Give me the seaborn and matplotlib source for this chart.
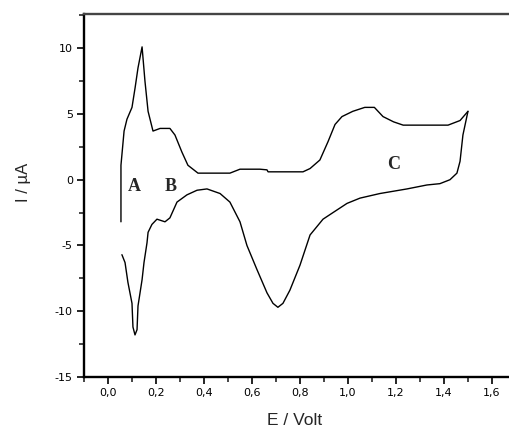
import numpy as np
import pandas as pd
import matplotlib
matplotlib.use("Agg")
import matplotlib.pyplot as plt
import seaborn as sns
from matplotlib.ticker import MultipleLocator, FuncFormatter

# Anodic (upper) branch
anodic_E = [0.054, 0.054, 0.067, 0.079, 0.1, 0.113, 0.125, 0.142, 0.154, 0.167, 0.1875,
            0.217, 0.258, 0.279, 0.308, 0.333, 0.375, 0.508, 0.55, 0.633, 0.6625, 0.667,
            0.8125, 0.842, 0.883, 0.917, 0.946, 0.975, 1.02, 1.07, 1.11, 1.146, 1.19,
            1.23, 1.417, 1.467, 1.5]
anodic_I = [-3.2, 1.1, 3.7, 4.6, 5.5, 7.0, 8.5, 10.1, 7.5, 5.2, 3.7,
            3.9, 3.9, 3.4, 2.1, 1.1, 0.5, 0.5, 0.8, 0.8, 0.75, 0.6,
            0.6, 0.85, 1.5, 2.9, 4.2, 4.8, 5.2, 5.5, 5.5, 4.8, 4.4,
            4.15, 4.15, 4.5, 5.2]

# Cathodic (lower) branch
cathodic_E = [1.5, 1.479, 1.467, 1.454, 1.425, 1.383, 1.329, 1.246, 1.133, 1.05, 0.996,
              0.9375, 0.896, 0.842, 0.8, 0.758, 0.729, 0.708, 0.6875, 0.6625, 0.62,
              0.579, 0.55, 0.508, 0.467, 0.4125, 0.371, 0.329, 0.2875, 0.258, 0.2375,
              0.204, 0.183, 0.167, 0.1625, 0.15, 0.142, 0.125, 0.121, 0.1125, 0.104,
              0.1, 0.083, 0.071, 0.058]
cathodic_I = [5.2, 3.4, 1.4, 0.5, 0.0, -0.3, -0.4, -0.7, -1.05, -1.4, -1.8,
              -2.5, -3.0, -4.2, -6.5, -8.4, -9.4, -9.7, -9.4, -8.6, -6.8,
              -5.0, -3.2, -1.7, -1.05, -0.7, -0.8, -1.15, -1.7, -2.9, -3.2,
              -3.0, -3.4, -4.0, -4.8, -6.3, -7.6, -9.6, -11.4, -11.8, -11.2,
              -9.4, -7.8, -6.3, -5.7]

peak_labels = ["A", "B", "C"]
peak_label_E = [0.108, 0.262, 1.19]
peak_label_I = [-0.55, -0.55, 1.15]

sns.set_style("white")
plt.rcParams['font.family'] = ['Liberation Sans', 'DejaVu Sans']

fig = plt.figure(figsize=(5.09, 4.30), dpi=100)
ax = fig.add_axes([84/509, 53/430, 1 - 84/509, (377-14)/430])

df_a = pd.DataFrame({"E": anodic_E, "I": anodic_I})
df_c = pd.DataFrame({"E": cathodic_E, "I": cathodic_I})
sns.lineplot(data=df_a, x="E", y="I", sort=False, estimator=None, color="black", lw=1.0, ax=ax)
sns.lineplot(data=df_c, x="E", y="I", sort=False, estimator=None, color="black", lw=1.0, ax=ax)

for t, e, i in zip(peak_labels, peak_label_E, peak_label_I):
    ax.text(e, i, t, fontsize=13, fontweight="bold", family="Liberation Serif",
            ha="center", va="center")

ax.set_xlim(-0.1, 1.671)
ax.set_ylim(-15, 12.6)
ax.xaxis.set_major_locator(MultipleLocator(0.2))
ax.xaxis.set_minor_locator(MultipleLocator(0.1))
ax.yaxis.set_major_locator(MultipleLocator(5))
ax.yaxis.set_minor_locator(MultipleLocator(2.5))
ax.xaxis.set_major_formatter(FuncFormatter(lambda v, p: f"{v:.1f}".replace(".", ",").replace("-0,0", "0,0")))
ax.yaxis.set_major_formatter(FuncFormatter(lambda v, p: f"{v:.0f}"))

ax.tick_params(which="major", direction="out", length=5, width=1.2, labelsize=8, pad=3,
               bottom=True, left=True, colors="black")
ax.tick_params(which="minor", direction="out", length=3.5, width=1.2, bottom=True, left=True)
for lab in ax.get_xticklabels() + ax.get_yticklabels():
    lab.set_family("DejaVu Sans")

for s in ["left", "bottom", "top"]:
    ax.spines[s].set_linewidth(1.7)
    ax.spines[s].set_color("black")
ax.spines["top"].set_color("#444444")
ax.spines["right"].set_visible(False)

ax.set_xlabel("E / Volt", fontsize=12.5)
ax.set_ylabel("I / µA", fontsize=12)
ax.xaxis.set_label_coords(0.496, -0.100)
ax.yaxis.set_label_coords(-0.125, 0.537)

fig.savefig("out.png", dpi=100)
